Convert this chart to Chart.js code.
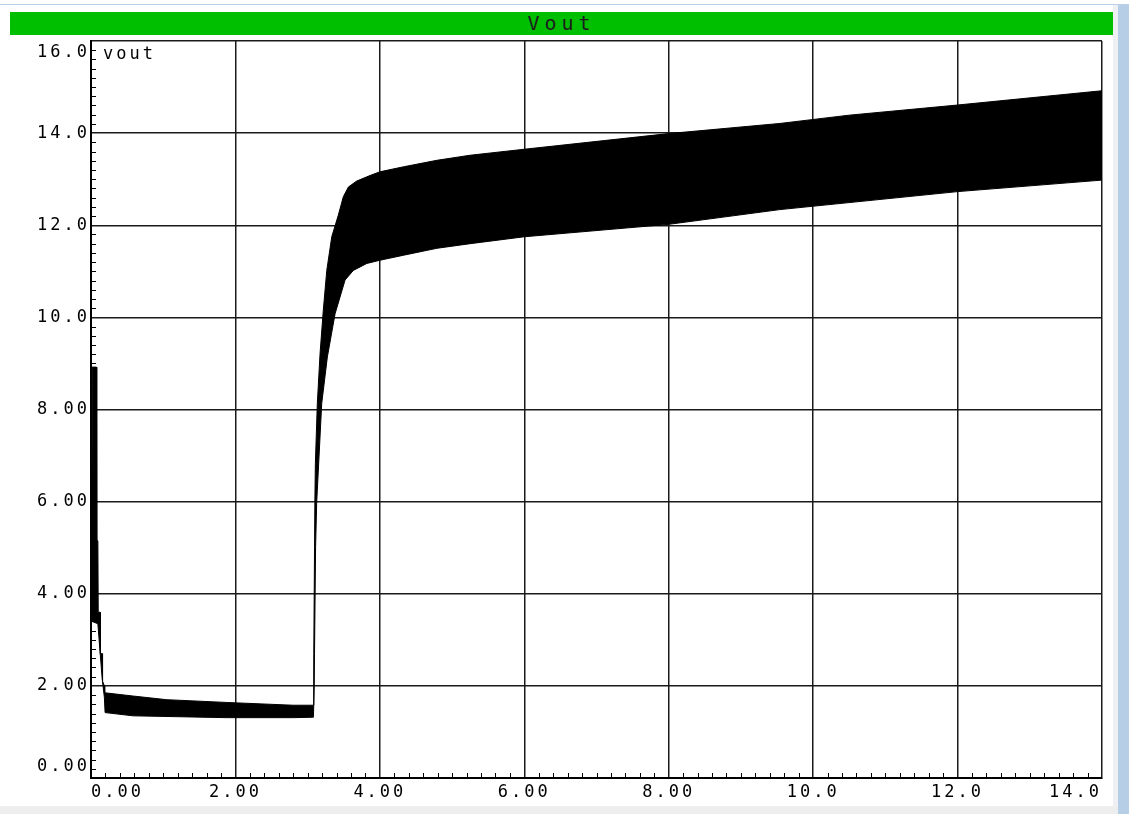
<!DOCTYPE html>
<html>
<head>
<meta charset="utf-8">
<title>Vout</title>
<script src="https://cdn.jsdelivr.net/npm/chart.js@4.4.1/dist/chart.umd.min.js"></script>
<style>
  html, body { margin: 0; padding: 0; background: #fff; }
  body { width: 1129px; height: 814px; position: relative; overflow: hidden; }
  #topline { position: absolute; left: 0; top: 4px; width: 1129px; height: 1px; background: #b9d1e8; }
  #rightgap { position: absolute; left: 1113px; top: 5px; width: 5px; height: 809px; background: #eef0f3; }
  #rightbar { position: absolute; left: 1118px; top: 5px; width: 11px; height: 809px; background: #b7cfe6; }
  #bottombar { position: absolute; left: 0; top: 806px; width: 1118px; height: 8px; background: #eeeeee; }
  #titlebar {
    position: absolute; left: 10px; top: 12px; width: 1103px; height: 23px;
    background: #00bf00; color: #1d1d1d; text-align: center;
    font: 20px 'DejaVu Sans Mono', monospace; line-height: 23px; letter-spacing: 5px;
  }
  #wrap { position: absolute; left: 0; top: 30px; width: 1113px; height: 776px; }
</style>
</head>
<body>
<div id="topline"></div>
<div id="rightgap"></div>
<div id="rightbar"></div>
<div id="bottombar"></div>
<div id="titlebar">Vout</div>
<div id="wrap"><canvas id="chart" width="1113" height="776"></canvas></div>
<script>
// envelope of the oscillating vout trace (time, volts)
const upperX = [0.012, 0.016, 0.075, 0.08, 0.095, 0.1, 0.125, 0.13, 0.155, 0.16, 0.185, 0.19,
  0.58, 1.05, 1.88, 2.8, 3.08, 3.085, 3.1, 3.107, 3.134, 3.172, 3.217, 3.265, 3.334, 3.425,
  3.494, 3.564, 3.68, 3.864, 4.0, 4.33, 4.79, 5.25, 6.0, 8.0, 9.54, 10.5, 12.0, 14.0];
const upperY = [3.4, 8.92, 8.92, 5.15, 5.15, 3.6, 3.6, 2.7, 2.7, 2.1, 2.0, 1.85,
  1.78, 1.70, 1.64, 1.58, 1.58, 2.7, 6.0, 6.83, 8.13, 9.22, 10.16, 11.02, 11.75, 12.22,
  12.62, 12.83, 12.96, 13.08, 13.16, 13.27, 13.41, 13.52, 13.65, 13.99, 14.21, 14.39, 14.61, 14.92];

const lowerX = [0.012, 0.095, 0.125, 0.155, 0.185, 0.195, 0.58, 1.88, 2.8, 3.08, 3.09, 3.11,
  3.125, 3.134, 3.195, 3.273, 3.38, 3.518, 3.633, 3.819, 4.0, 4.33, 4.79, 5.25, 6.0, 8.0,
  9.54, 12.0, 14.0];
const lowerY = [3.4, 3.35, 2.75, 2.15, 1.75, 1.42, 1.35, 1.31, 1.31, 1.32, 1.9, 5.0,
  5.96, 6.25, 8.13, 9.14, 10.08, 10.81, 11.02, 11.17, 11.24, 11.35, 11.5, 11.6, 11.75, 12.02,
  12.34, 12.73, 12.98];

const xTickLabels = ['0.00', '2.00', '4.00', '6.00', '8.00', '10.0', '12.0', '14.0'];
const yTickLabels = ['0.00', '2.00', '4.00', '6.00', '8.00', '10.0', '12.0', '14.0', '16.0'];

const MONO = "'DejaVu Sans Mono', monospace";
const SPACING = '3px';

function isMajor(v) {
  return Math.abs(v / 2 - Math.round(v / 2)) < 1e-6;
}

function toPoints(xs, ys) {
  return xs.map((x, i) => ({ x, y: ys[i] }));
}

// wide, evenly spaced glyphs like the simulator's bitmap font
const wideText = {
  id: 'wideText',
  beforeLayout(chart) { chart.ctx.letterSpacing = SPACING; },
  beforeDraw(chart) { chart.ctx.letterSpacing = SPACING; }
};

// small inward ticks every 0.2 along the left and bottom axes
const minorTicks = {
  id: 'minorTicks',
  afterDatasetsDraw(chart) {
    const { ctx, chartArea, scales } = chart;
    ctx.save();
    ctx.strokeStyle = '#000';
    ctx.lineWidth = 1;
    ctx.beginPath();
    scales.x.ticks.forEach(t => {
      if (isMajor(t.value)) return;
      const px = Math.round(scales.x.getPixelForValue(t.value)) + 0.5;
      ctx.moveTo(px, chartArea.bottom);
      ctx.lineTo(px, chartArea.bottom - 5);
    });
    scales.y.ticks.forEach(t => {
      if (isMajor(t.value)) return;
      const py = Math.round(scales.y.getPixelForValue(t.value)) + 0.5;
      ctx.moveTo(chartArea.left, py);
      ctx.lineTo(chartArea.left + 5, py);
    });
    ctx.stroke();
    ctx.restore();
  }
};

// signal name in the top left corner of the plot
const signalName = {
  id: 'signalName',
  afterDraw(chart) {
    const { ctx, chartArea } = chart;
    ctx.save();
    ctx.font = '17px ' + MONO;
    ctx.fillStyle = '#000';
    ctx.textBaseline = 'top';
    ctx.fillText('vout', chartArea.left + 12, chartArea.top + 5);
    ctx.restore();
  }
};

const gridColor = ctx => (ctx.tick && isMajor(ctx.tick.value)) ? '#1a1a1a' : 'rgba(0,0,0,0)';

// end labels of the y axis are kept inside the plot height
function yLabel(v) {
  if (!isMajor(v)) return '';
  const s = yTickLabels[Math.round(v / 2)];
  if (v >= 16) return ['', s];
  if (v <= 0) return [s, ''];
  return s;
}

new Chart(document.getElementById('chart'), {
  type: 'line',
  data: {
    datasets: [
      {
        label: 'vout max',
        data: toPoints(upperX, upperY),
        borderColor: '#000',
        borderWidth: 1,
        pointRadius: 0,
        fill: false
      },
      {
        label: 'vout min',
        data: toPoints(lowerX, lowerY),
        borderColor: '#000',
        borderWidth: 1,
        pointRadius: 0,
        backgroundColor: '#000',
        fill: '-1'
      }
    ]
  },
  options: {
    responsive: false,
    animation: false,
    layout: { padding: { top: 11, right: 11, left: 0, bottom: 0 } },
    plugins: {
      legend: { display: false },
      tooltip: { enabled: false }
    },
    scales: {
      x: {
        type: 'linear',
        min: 0,
        max: 14,
        afterFit: scale => { scale.height = 28; },
        border: { display: true, color: '#000', width: 2 },
        grid: { color: gridColor, lineWidth: 1.5, drawTicks: false },
        ticks: {
          stepSize: 0.2,
          autoSkip: false,
          maxRotation: 0,
          minRotation: 0,
          align: 'inner',
          padding: 4,
          color: '#000',
          font: { family: MONO, size: 17 },
          callback: v => isMajor(v) ? xTickLabels[Math.round(v / 2)] : ''
        }
      },
      y: {
        min: 0,
        max: 16,
        afterFit: scale => {
          scale.width = 91;
          scale.paddingTop = 0;
          scale.paddingBottom = 0;
        },
        border: { display: true, color: '#000', width: 2 },
        grid: { color: gridColor, lineWidth: 1.5, drawTicks: false },
        ticks: {
          stepSize: 0.2,
          autoSkip: false,
          padding: 1,
          color: '#000',
          font: { family: MONO, size: 17, lineHeight: 1.35 },
          callback: yLabel
        }
      }
    }
  },
  plugins: [wideText, minorTicks, signalName]
});
</script>
</body>
</html>
